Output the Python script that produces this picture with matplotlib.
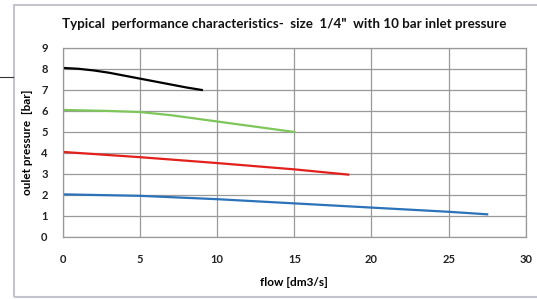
import matplotlib
matplotlib.use("Agg")
import matplotlib.pyplot as plt
from matplotlib.lines import Line2D
from matplotlib.patches import Rectangle

plt.rcParams["font.family"] = ["Lato", "DejaVu Sans"]

# curves (flow dm3/s -> outlet pressure bar)
flow_8bar = [0, 1, 2, 3, 4, 5, 6, 7, 8, 9]
p_8bar = [8.05, 8.01, 7.93, 7.82, 7.68, 7.54, 7.4, 7.26, 7.12, 7.0]

flow_6bar = [0, 3, 5, 7, 10, 12, 15]
p_6bar = [6.05, 6.0, 5.95, 5.8, 5.5, 5.3, 5.0]

flow_4bar = [0, 5, 10, 15, 18.5]
p_4bar = [4.05, 3.8, 3.52, 3.22, 2.97]

flow_2bar = [0, 5, 10, 15, 20, 25, 27.5]
p_2bar = [2.03, 1.96, 1.8, 1.6, 1.4, 1.2, 1.08]

xticks = [0, 5, 10, 15, 20, 25, 30]
yticks = list(range(10))

fig = plt.figure(figsize=(5.37, 2.99), dpi=100)
ax = fig.add_axes([0.1173, 0.2074, 0.8617, 0.6321])

ax.plot(flow_8bar, p_8bar, c="black", lw=1.6)
ax.plot(flow_6bar, p_6bar, c="#7fc65a", lw=1.6)
ax.plot(flow_4bar, p_4bar, c="#e3201c", lw=1.6)
ax.plot(flow_2bar, p_2bar, c="#2b72b8", lw=1.6)

ax.set_xlim(0, 30)
ax.set_ylim(0, 9)
ax.set_xticks(xticks)
ax.set_yticks(yticks)
ax.grid(True, color="#999999", lw=0.9)
ax.set_axisbelow(True)
for s in ax.spines.values():
    s.set_color("#999999")
    s.set_linewidth(0.9)
ax.tick_params(length=0, labelsize=8, colors="#222222", pad=11)
ax.tick_params(axis="x", pad=12)
for lab in ax.get_xticklabels() + ax.get_yticklabels():
    lab.set_fontweight("bold")

ax.set_xlabel("flow [dm3/s]", fontsize=8.5, fontweight="bold", labelpad=9)
ax.set_ylabel("oulet pressure  [bar]", fontsize=8.5, fontweight="bold", labelpad=6)

fig.text(0.529, 0.92, 'Typical  performance characteristics-  size  1/4"  with 10 bar inlet pressure',
         ha="center", va="center", fontsize=9.6, fontweight="bold", color="#111111")

# outer frame around the chart
fig.add_artist(Rectangle((14 / 537, 2 / 299), 1.0, 292 / 299, transform=fig.transFigure,
                         fill=False, ec="#c4c4cc", lw=1.5))
fig.add_artist(Line2D([0, 13 / 537], [222 / 299, 222 / 299], transform=fig.transFigure,
                      color="#333333", lw=0.8))

plt.savefig("out.png", dpi=100)
